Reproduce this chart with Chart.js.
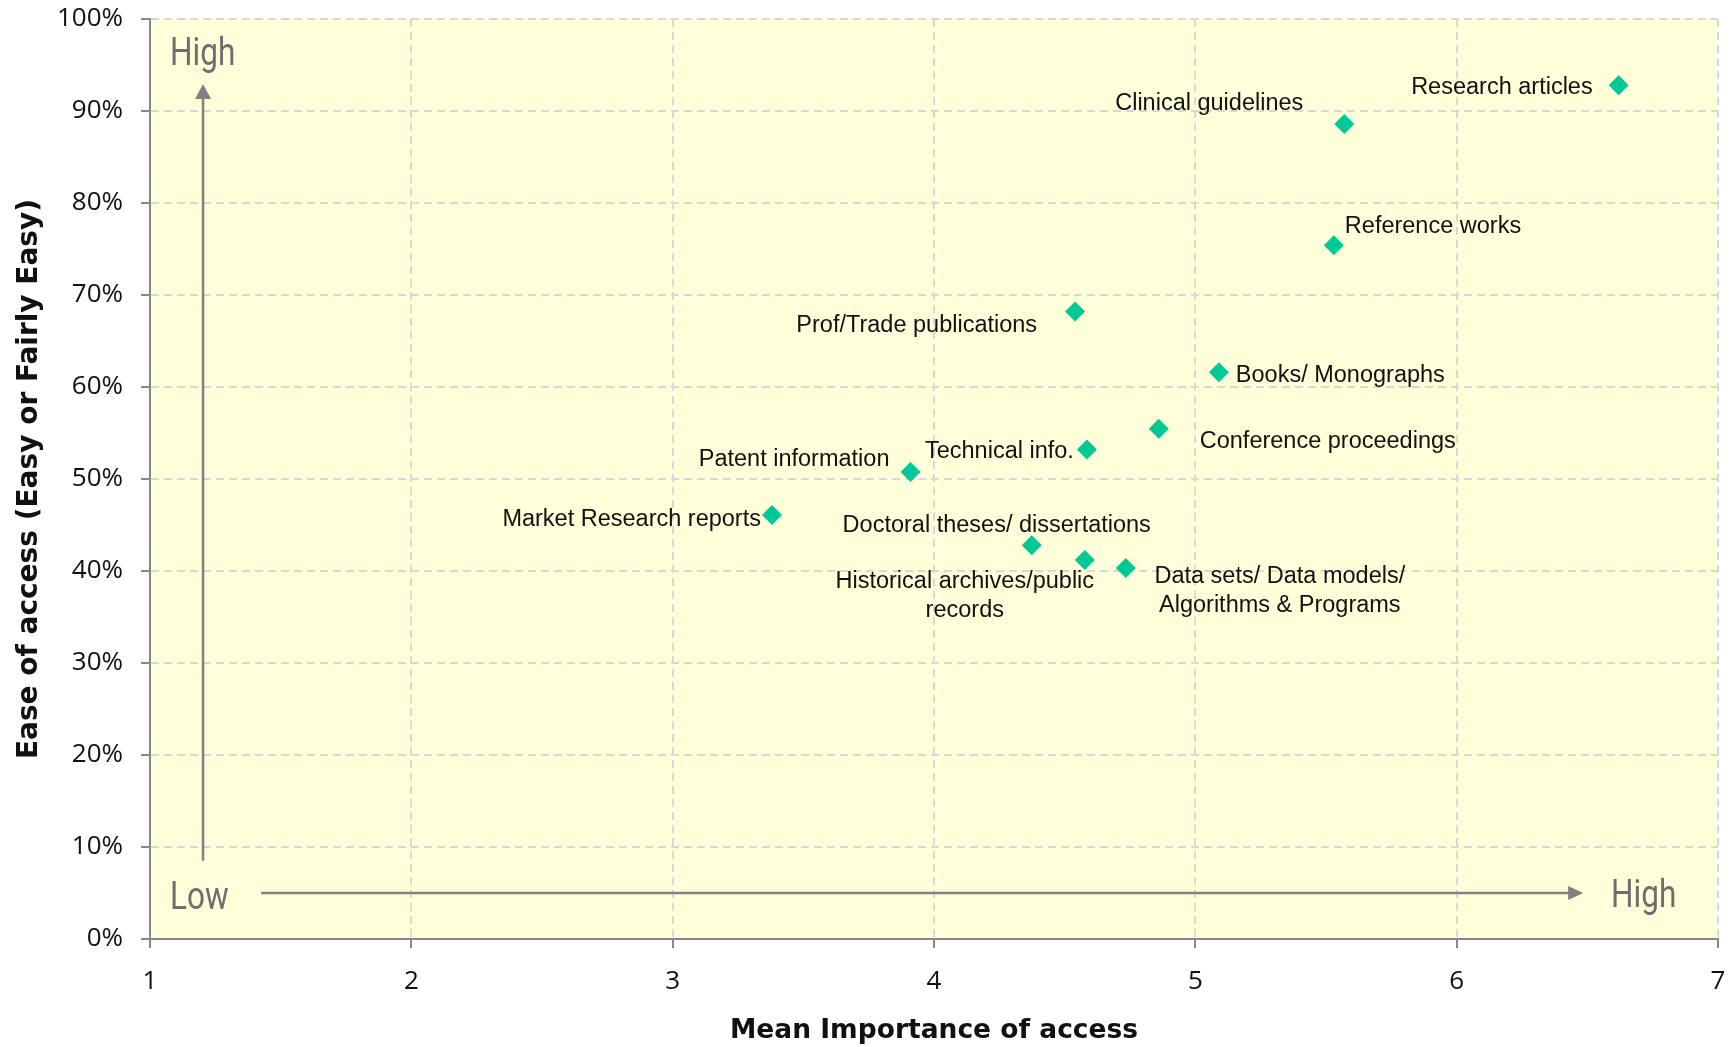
<!DOCTYPE html>
<html>
<head>
<meta charset="utf-8">
<title>Importance vs ease of access</title>
<script src="https://cdn.jsdelivr.net/npm/chart.js@4"></script>
<style>
  html, body { margin: 0; padding: 0; background: #fff; }
  #wrap { width: 1734px; height: 1047px; }
</style>
</head>
<body>
<div id="wrap"><canvas id="chart" width="1734" height="1047"></canvas></div>
<script>
// Daten
const categories = [
  "Research articles",
  "Clinical guidelines",
  "Reference works",
  "Prof/Trade publications",
  "Books/ Monographs",
  "Conference proceedings",
  "Technical info.",
  "Patent information",
  "Market Research reports",
  "Doctoral theses/ dissertations",
  "Historical archives/public\nrecords",
  "Data sets/ Data models/\nAlgorithms & Programs"
];
const importance = [6.62, 5.57, 5.53, 4.54, 5.09, 4.86, 4.585, 3.91, 3.38, 4.374, 4.577, 4.734];
const easeOfAccess = [92.8, 88.6, 75.4, 68.2, 61.6, 55.45, 53.2, 50.76, 46.1, 42.8, 41.2, 40.33];
const xTicks = [1, 2, 3, 4, 5, 6, 7];
const yTicks = [0, 10, 20, 30, 40, 50, 60, 70, 80, 90, 100];

// Label placement next to each point (pixels)
const labelPlacement = [
  { align: "right",  dx: -26,  dy: 2 },
  { align: "right",  dx: -41,  dy: -20 },
  { align: "left",   dx: 11,   dy: -19 },
  { align: "right",  dx: -38,  dy: 14 },
  { align: "left",   dx: 17,   dy: 3 },
  { align: "left",   dx: 41,   dy: 13 },
  { align: "right",  dx: -13,  dy: 2 },
  { align: "right",  dx: -21,  dy: -12 },
  { align: "right",  dx: -11,  dy: 5 },
  { align: "center", dx: -35,  dy: -20 },
  { align: "center", dx: -120, dy: 22 },
  { align: "center", dx: 154,  dy: 9 }
];

/* ---------- background of plot area ---------- */
const plotBackground = {
  id: "plotBackground",
  beforeDraw(chart) {
    const { ctx, chartArea: a } = chart;
    ctx.save();
    ctx.fillStyle = "#ffffd9";
    ctx.fillRect(a.left, a.top, a.right - a.left, a.bottom - a.top);
    ctx.restore();
  }
};

/* ---------- point labels ---------- */
const pointLabels = {
  id: "pointLabels",
  afterDatasetsDraw(chart) {
    const ctx = chart.ctx;
    const meta = chart.getDatasetMeta(0);
    ctx.save();
    ctx.font = '23.5px "Liberation Sans", Arial, sans-serif';
    ctx.fillStyle = "#111";
    ctx.textBaseline = "middle";
    meta.data.forEach((pt, i) => {
      const p = labelPlacement[i];
      const lines = categories[i].split("\n");
      ctx.textAlign = p.align;
      lines.forEach((line, j) => {
        ctx.fillText(line, pt.x + p.dx, pt.y + p.dy + j * 28.5);
      });
    });
    ctx.restore();
  }
};

/* ---------- Low / High arrows ---------- */
const quadrantArrows = {
  id: "quadrantArrows",
  afterDatasetsDraw(chart) {
    const ctx = chart.ctx;
    const xs = chart.scales.x;
    const ys = chart.scales.y;
    ctx.save();
    ctx.strokeStyle = "#808080";
    ctx.fillStyle = "#808080";
    ctx.lineWidth = 2.5;

    // vertical arrow
    const vx = xs.getPixelForValue(1.203);
    const vy0 = ys.getPixelForValue(8.5);
    const vy1 = ys.getPixelForValue(92.93);
    ctx.beginPath();
    ctx.moveTo(vx, vy0);
    ctx.lineTo(vx, vy1 + 12);
    ctx.stroke();
    ctx.beginPath();
    ctx.moveTo(vx, vy1);
    ctx.lineTo(vx - 8, vy1 + 15);
    ctx.lineTo(vx + 8, vy1 + 15);
    ctx.closePath();
    ctx.fill();

    // horizontal arrow
    const hy = ys.getPixelForValue(5);
    const hx0 = xs.getPixelForValue(1.425);
    const hx1 = xs.getPixelForValue(6.484);
    ctx.beginPath();
    ctx.moveTo(hx0, hy);
    ctx.lineTo(hx1 - 12, hy);
    ctx.stroke();
    ctx.beginPath();
    ctx.moveTo(hx1, hy);
    ctx.lineTo(hx1 - 15, hy - 7);
    ctx.lineTo(hx1 - 15, hy + 7);
    ctx.closePath();
    ctx.fill();

    // texts (condensed look)
    ctx.fillStyle = "#6e6e6e";
    ctx.font = '38px Roboto, sans-serif';
    ctx.textAlign = "left";
    ctx.textBaseline = "alphabetic";
    const words = [
      { t: "High", x: 1.077, y: 95.0 },
      { t: "Low",  x: 1.077, y: 3.26 },
      { t: "High", x: 6.591, y: 3.48 }
    ];
    words.forEach(w => {
      ctx.save();
      ctx.translate(xs.getPixelForValue(w.x), ys.getPixelForValue(w.y));
      ctx.scale(0.83, 1);
      ctx.fillText(w.t, 0, 0);
      ctx.restore();
    });
    ctx.restore();
  }
};

const gridStyle = {
  color: "#d8d8d8",
  lineWidth: 2,
  tickColor: "#888",
  tickWidth: 2,
  tickLength: 9,
  tickBorderDash: []
};
const borderStyle = { display: true, color: "#888", width: 2, dash: [8, 5] };

new Chart(document.getElementById("chart"), {
  type: "scatter",
  data: {
    datasets: [{
      data: importance.map((v, i) => ({ x: v, y: easeOfAccess[i] })),
      pointStyle: "rectRot",
      pointRadius: 10,
      pointHoverRadius: 10,
      backgroundColor: "#00c896",
      borderWidth: 0
    }]
  },
  options: {
    responsive: false,
    animation: false,
    events: [],
    layout: { padding: { top: 19, right: 16, left: 0, bottom: 0 } },
    plugins: {
      legend: { display: false },
      tooltip: { enabled: false }
    },
    scales: {
      x: {
        type: "linear",
        min: 1,
        max: 7,
        afterBuildTicks: s => { s.ticks = xTicks.map(v => ({ value: v })); },
        afterFit: s => { s.height = 108; s.paddingLeft = 0; s.paddingRight = 0; },
        grid: gridStyle,
        border: borderStyle,
        ticks: {
          color: "#111",
          padding: 18,
          font: { family: '"Open Sans", sans-serif', size: 26 }
        },
        title: {
          display: true,
          text: "Mean Importance of access",
          color: "#111",
          padding: { top: 0, bottom: 0 },
          font: { family: '"DejaVu Sans", sans-serif', size: 26.5, weight: "bold" }
        }
      },
      y: {
        type: "linear",
        min: 0,
        max: 100,
        afterBuildTicks: s => { s.ticks = yTicks.map(v => ({ value: v })); },
        afterFit: s => { s.width = 150; s.paddingTop = 0; s.paddingBottom = 0; },
        grid: gridStyle,
        border: borderStyle,
        ticks: {
          color: "#111",
          padding: 18,
          font: { family: '"Open Sans", sans-serif', size: 26 },
          callback: v => v + "%"
        },
        title: {
          display: true,
          text: "Ease of access (Easy or Fairly Easy)",
          color: "#111",
          padding: { top: 13, bottom: 0 },
          font: { family: '"DejaVu Sans", sans-serif', size: 28, weight: "bold" }
        }
      }
    }
  },
  plugins: [plotBackground, pointLabels, quadrantArrows]
});
</script>
</body>
</html>
